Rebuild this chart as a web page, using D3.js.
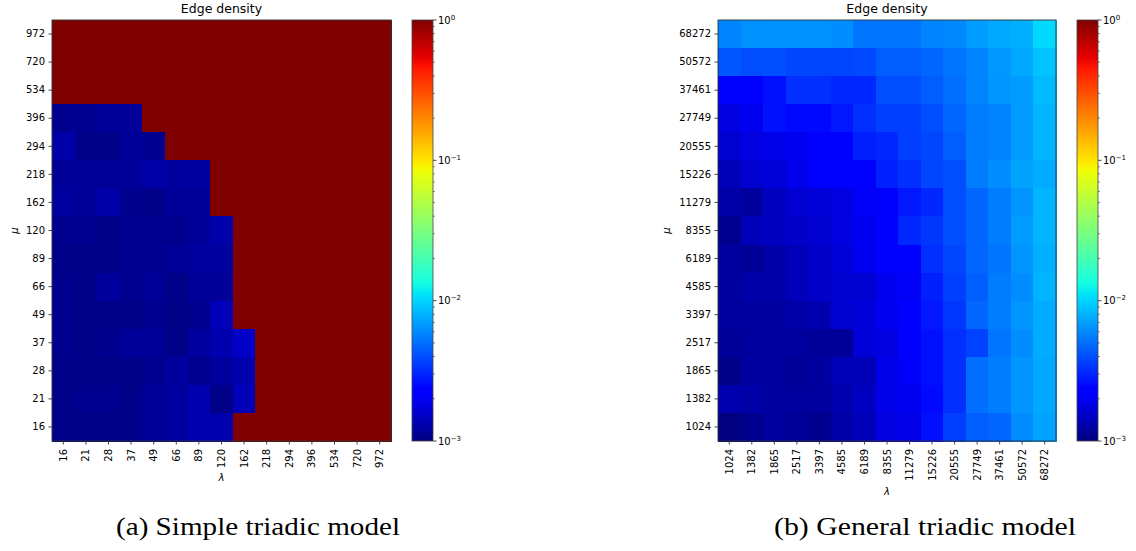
<!DOCTYPE html>
<html>
<head>
<meta charset="utf-8">
<script src="https://cdn.jsdelivr.net/npm/d3@7"></script>
<style>
  html, body { margin: 0; padding: 0; background: #fff; }
  svg { display: block; }
  .tick text { font-family: "DejaVu Sans", sans-serif; font-size: 10px; fill: #000; }
</style>
</head>
<body>
<svg id="chart" width="1136" height="551"></svg>
<script>
// ---------------- data ----------------
// Simple triadic model: λ along x (left→right), μ along y (listed top→bottom)
const lambdaSimple = ["16","21","28","37","49","66","89","120","162","218","294","396","534","720","972"];
const muSimple     = ["972","720","534","396","294","218","162","120","89","66","49","37","28","21","16"];
const densitySimple = [
  [1,1,1,1,1,1,1,1,1,1,1,1,1,1,1],
  [1,1,1,1,1,1,1,1,1,1,1,1,1,1,1],
  [1,1,1,1,1,1,1,1,1,1,1,1,1,1,1],
  [1.10e-3,1.10e-3,1.16e-3,1.16e-3,1,1,1,1,1,1,1,1,1,1,1],
  [1.27e-3,1.05e-3,1.05e-3,1.16e-3,1.10e-3,1,1,1,1,1,1,1,1,1,1],
  [1.16e-3,1.16e-3,1.16e-3,1.16e-3,1.27e-3,1.21e-3,1.21e-3,1,1,1,1,1,1,1,1],
  [1.21e-3,1.16e-3,1.27e-3,1.10e-3,1.05e-3,1.16e-3,1.16e-3,1,1,1,1,1,1,1,1],
  [1.10e-3,1.10e-3,1.05e-3,1.10e-3,1.10e-3,1.10e-3,1.16e-3,1.27e-3,1,1,1,1,1,1,1],
  [1.05e-3,1.05e-3,1.05e-3,1.10e-3,1.10e-3,1.16e-3,1.21e-3,1.21e-3,1,1,1,1,1,1,1],
  [1.10e-3,1.05e-3,1.21e-3,1.10e-3,1.16e-3,1.05e-3,1.16e-3,1.16e-3,1,1,1,1,1,1,1],
  [1.10e-3,1.05e-3,1.05e-3,1.05e-3,1.10e-3,1.05e-3,1.10e-3,1.40e-3,1,1,1,1,1,1,1],
  [1.10e-3,1.05e-3,1.10e-3,1.16e-3,1.16e-3,1.05e-3,1.21e-3,1.33e-3,1.54e-3,1,1,1,1,1,1],
  [1.05e-3,1.05e-3,1.05e-3,1.05e-3,1.10e-3,1.21e-3,1.10e-3,1.21e-3,1.33e-3,1,1,1,1,1,1],
  [1.05e-3,1.10e-3,1.10e-3,1.05e-3,1.16e-3,1.21e-3,1.33e-3,1.05e-3,1.40e-3,1,1,1,1,1,1],
  [1.05e-3,1.05e-3,1.05e-3,1.05e-3,1.16e-3,1.21e-3,1.33e-3,1.33e-3,1,1,1,1,1,1,1]
];

// General triadic model
const lambdaGeneral = ["1024","1382","1865","2517","3397","4585","6189","8355","11279","15226","20555","27749","37461","50572","68272"];
const muGeneral     = ["68272","50572","37461","27749","20555","15226","11279","8355","6189","4585","3397","2517","1865","1382","1024"];
const densityGeneral = [
  [5.84e-3,6.30e-3,6.40e-3,6.40e-3,6.40e-3,6.16e-3,5.25e-3,5.25e-3,5.25e-3,5.84e-3,6.00e-3,6.84e-3,7.40e-3,7.80e-3,1.03e-2],
  [4.25e-3,4.03e-3,4.03e-3,3.82e-3,3.82e-3,3.82e-3,3.90e-3,4.48e-3,4.48e-3,4.73e-3,5.25e-3,5.84e-3,6.60e-3,7.40e-3,8.91e-3],
  [2.20e-3,2.25e-3,2.64e-3,3.26e-3,3.26e-3,3.09e-3,3.09e-3,4.03e-3,4.03e-3,4.48e-3,4.99e-3,5.84e-3,6.49e-3,6.84e-3,8.45e-3],
  [1.78e-3,1.95e-3,2.64e-3,2.50e-3,2.50e-3,2.78e-3,3.26e-3,3.63e-3,3.63e-3,4.03e-3,4.73e-3,5.54e-3,5.84e-3,6.84e-3,8.02e-3],
  [1.62e-3,1.78e-3,1.86e-3,1.95e-3,2.20e-3,2.20e-3,2.93e-3,3.09e-3,3.63e-3,3.82e-3,4.48e-3,5.54e-3,5.84e-3,6.84e-3,8.02e-3],
  [1.40e-3,1.62e-3,1.69e-3,1.90e-3,2.20e-3,2.20e-3,2.25e-3,2.93e-3,3.26e-3,3.82e-3,4.03e-3,5.54e-3,6.16e-3,7.21e-3,7.61e-3],
  [1.27e-3,1.21e-3,1.47e-3,1.62e-3,1.69e-3,1.78e-3,2.05e-3,2.20e-3,2.78e-3,3.09e-3,4.03e-3,4.73e-3,5.54e-3,6.49e-3,8.02e-3],
  [1.10e-3,1.40e-3,1.47e-3,1.54e-3,1.62e-3,1.78e-3,1.95e-3,2.20e-3,3.09e-3,3.44e-3,4.03e-3,4.73e-3,5.54e-3,6.84e-3,8.02e-3],
  [1.21e-3,1.16e-3,1.27e-3,1.40e-3,1.54e-3,1.69e-3,1.95e-3,2.20e-3,2.20e-3,3.26e-3,3.82e-3,4.73e-3,5.25e-3,6.49e-3,7.80e-3],
  [1.21e-3,1.27e-3,1.27e-3,1.40e-3,1.54e-3,1.62e-3,1.62e-3,1.95e-3,2.05e-3,2.93e-3,3.63e-3,4.48e-3,5.54e-3,6.16e-3,8.02e-3],
  [1.21e-3,1.21e-3,1.21e-3,1.27e-3,1.33e-3,1.62e-3,1.69e-3,1.95e-3,2.20e-3,2.78e-3,3.44e-3,4.73e-3,5.54e-3,6.49e-3,7.61e-3],
  [1.16e-3,1.21e-3,1.21e-3,1.21e-3,1.16e-3,1.16e-3,1.69e-3,1.78e-3,2.20e-3,2.64e-3,3.26e-3,3.70e-3,5.25e-3,6.16e-3,7.61e-3],
  [1.05e-3,1.21e-3,1.21e-3,1.16e-3,1.21e-3,1.40e-3,1.40e-3,1.86e-3,2.05e-3,2.64e-3,3.26e-3,4.99e-3,5.54e-3,6.49e-3,7.40e-3],
  [1.33e-3,1.27e-3,1.21e-3,1.21e-3,1.21e-3,1.33e-3,1.47e-3,1.86e-3,1.95e-3,2.50e-3,3.26e-3,4.99e-3,5.54e-3,6.49e-3,7.40e-3],
  [1.00e-3,1.10e-3,1.21e-3,1.16e-3,1.10e-3,1.27e-3,1.40e-3,1.78e-3,1.86e-3,2.64e-3,3.63e-3,4.48e-3,4.73e-3,6.16e-3,7.21e-3]
];

const colorbarMajor = [1, 1e-1, 1e-2, 1e-3];
const colorbarMajorExp = ["0", "\u22121", "\u22122", "\u22123"];
const titleText = "Edge density";
const captions = ["(a) Simple triadic model", "(b) General triadic model"];

// ---------------- colour map (matplotlib "jet", log norm) ----------------
const jetR = d3.scaleLinear().domain([0, 0.35, 0.66, 0.89, 1]).range([0, 0, 1, 1, 0.5]).clamp(true);
const jetG = d3.scaleLinear().domain([0, 0.125, 0.375, 0.64, 0.91, 1]).range([0, 0, 1, 1, 0, 0]).clamp(true);
const jetB = d3.scaleLinear().domain([0, 0.11, 0.34, 0.65, 1]).range([0.5, 1, 1, 0, 0]).clamp(true);
const jet = t => d3.rgb(jetR(t) * 255, jetG(t) * 255, jetB(t) * 255).toString();
const norm = d3.scaleLog().domain([1e-3, 1]).range([0, 1]).clamp(true);
const colorOf = v => jet(norm(v));

const svg = d3.select("#chart");
const defs = svg.append("defs");
const grad = defs.append("linearGradient").attr("id", "jetgrad")
  .attr("x1", 0).attr("y1", 1).attr("x2", 0).attr("y2", 0);
d3.range(0, 1.0001, 1 / 128).forEach(t => {
  grad.append("stop").attr("offset", t).attr("stop-color", jet(t));
});

function panel(cfg) {
  const { left, top, width, height, cbLeft, cbWidth, xCats, yCats, rows, caption, captionX, lambdaY, muX } = cfg;
  const g = svg.append("g");
  const x = d3.scaleBand().domain(xCats).range([left, left + width]);
  const y = d3.scaleBand().domain(yCats).range([top, top + height]);

  // cells
  const cells = g.append("g").attr("shape-rendering", "crispEdges");
  rows.forEach((row, i) => {
    row.forEach((v, j) => {
      cells.append("rect")
        .attr("x", x(xCats[j]))
        .attr("y", y(yCats[i]))
        .attr("width", x.bandwidth() + 0.6)
        .attr("height", y.bandwidth() + 0.6)
        .attr("fill", colorOf(v));
    });
  });

  // frame
  g.append("rect").attr("x", left).attr("y", top).attr("width", width).attr("height", height)
    .attr("fill", "none").attr("stroke", "#333").attr("stroke-width", 0.9);

  // y axis
  const ya = g.append("g").attr("transform", `translate(${left},0)`)
    .call(d3.axisLeft(y).tickSize(3.5).tickPadding(3.5));
  ya.select(".domain").remove();
  ya.selectAll(".tick line").attr("stroke", "#333").attr("stroke-width", 0.9);

  // x axis (rotated labels)
  const xa = g.append("g").attr("transform", `translate(0,${top + height})`)
    .call(d3.axisBottom(x).tickSize(3.5).tickPadding(3.5));
  xa.select(".domain").remove();
  xa.selectAll(".tick line").attr("stroke", "#333").attr("stroke-width", 0.9);
  xa.selectAll(".tick text")
    .attr("transform", "rotate(-90)")
    .attr("x", -8).attr("y", 0).attr("dy", "0.35em")
    .style("text-anchor", "end");

  // axis labels
  g.append("text").attr("x", left + width / 2).attr("y", lambdaY)
    .attr("text-anchor", "middle").attr("dominant-baseline", "middle")
    .style("font-family", "DejaVu Sans, sans-serif").style("font-size", "10px")
    .style("font-style", "italic").text("\u03bb");
  g.append("text")
    .attr("transform", `translate(${muX},${top + height / 2}) rotate(-90)`)
    .attr("text-anchor", "middle").attr("dominant-baseline", "middle")
    .style("font-family", "DejaVu Sans, sans-serif").style("font-size", "10px")
    .style("font-style", "italic").text("\u03bc");

  // title
  g.append("text").attr("x", left + width / 2).attr("y", 9)
    .attr("text-anchor", "middle").attr("dominant-baseline", "middle")
    .style("font-family", "DejaVu Sans, sans-serif").style("font-size", "12.5px")
    .text(titleText);

  // colorbar
  g.append("rect").attr("x", cbLeft).attr("y", top).attr("width", cbWidth).attr("height", height)
    .attr("fill", "url(#jetgrad)");
  g.append("rect").attr("x", cbLeft).attr("y", top).attr("width", cbWidth).attr("height", height)
    .attr("fill", "none").attr("stroke", "#444").attr("stroke-width", 0.8);
  const cy = d3.scaleLog().domain([1e-3, 1]).range([top + height, top]);
  const minor = [];
  [1e-3, 1e-2, 1e-1].forEach(d => { for (let k = 2; k <= 9; k++) minor.push(d * k); });
  g.selectAll(null).data(minor).enter().append("line")
    .attr("x1", cbLeft + cbWidth).attr("x2", cbLeft + cbWidth + 2)
    .attr("y1", d => cy(d)).attr("y2", d => cy(d))
    .attr("stroke", "#333").attr("stroke-width", 0.6);
  g.selectAll(null).data(colorbarMajor).enter().append("line")
    .attr("x1", cbLeft + cbWidth).attr("x2", cbLeft + cbWidth + 3.5)
    .attr("y1", d => cy(d)).attr("y2", d => cy(d))
    .attr("stroke", "#333").attr("stroke-width", 0.9);
  const lab = g.selectAll(null).data(colorbarMajor).enter().append("text")
    .attr("x", cbLeft + cbWidth + 5).attr("y", d => cy(d) + 3.5)
    .style("font-family", "DejaVu Sans, sans-serif").style("font-size", "10px");
  lab.append("tspan").text("10");
  lab.append("tspan").attr("dy", -4).style("font-size", "7px").text((d, i) => colorbarMajorExp[i]);

  // caption
  svg.append("text").attr("x", captionX).attr("y", 535)
    .attr("text-anchor", "middle")
    .attr("textLength", cfg.captionW).attr("lengthAdjust", "spacingAndGlyphs")
    .style("font-family", "Liberation Serif, serif").style("font-size", "25px")
    .text(caption);
}

panel({
  left: 52, top: 20, width: 339, height: 421, cbLeft: 412, cbWidth: 21,
  xCats: lambdaSimple, yCats: muSimple, rows: densitySimple,
  caption: captions[0], captionX: 258, captionW: 284, lambdaY: 478, muX: 15
});
panel({
  left: 718, top: 20, width: 338, height: 421, cbLeft: 1077, cbWidth: 21,
  xCats: lambdaGeneral, yCats: muGeneral, rows: densityGeneral,
  caption: captions[1], captionX: 925, captionW: 302, lambdaY: 492, muX: 667
});
</script>
</body>
</html>
